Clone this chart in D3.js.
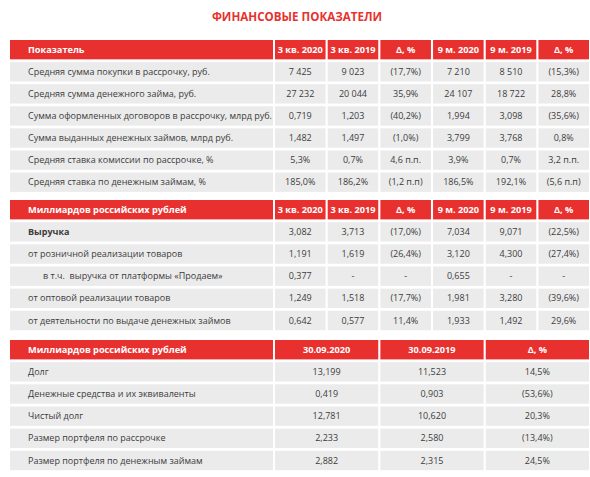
<!DOCTYPE html>
<html><head><meta charset="utf-8">
<script src="https://cdn.jsdelivr.net/npm/d3@7"></script>
<style>body{margin:0;background:#fff}svg{display:block;font-family:"Open Sans",sans-serif}</style>
</head><body>
<script>
const title = "ФИНАНСОВЫЕ ПОКАЗАТЕЛИ";
const periodHeaders = ["3 кв. 2020","3 кв. 2019","Δ, %","9 м. 2020","9 м. 2019","Δ, %"];

// Table 1: operating indicators
const t1Header = "Показатель";
const t1Labels = ["Средняя сумма покупки в рассрочку, руб.","Средняя сумма денежного займа, руб.","Сумма оформленных договоров в рассрочку, млрд руб.","Сумма выданных денежных займов, млрд руб.","Средняя ставка комиссии по рассрочке, %","Средняя ставка по денежным займам, %"];
const t1Q3_2020 = ["7 425","27 232","0,719","1,482","5,3%","185,0%"];
const t1Q3_2019 = ["9 023","20 044","1,203","1,497","0,7%","186,2%"];
const t1QDelta  = ["(17,7%)","35,9%","(40,2%)","(1,0%)","4,6 п.п.","(1,2 п.п)"];
const t1M9_2020 = ["7 210","24 107","1,994","3,799","3,9%","186,5%"];
const t1M9_2019 = ["8 510","18 722","3,098","3,768","0,7%","192,1%"];
const t1MDelta  = ["(15,3%)","28,8%","(35,6%)","0,8%","3,2 п.п.","(5,6 п.п)"];

// Table 2: revenue
const t2Header = "Миллиардов российских рублей";
const t2Labels = ["Выручка","от розничной реализации товаров","в т.ч.  выручка от платформы «Продаем»","от оптовой реализации товаров","от деятельности по выдаче денежных займов"];
const t2Bold = [true,false,false,false,false];
const t2Indent = [false,false,true,false,false];
const t2Q3_2020 = ["3,082","1,191","0,377","1,249","0,642"];
const t2Q3_2019 = ["3,713","1,619","-","1,518","0,577"];
const t2QDelta  = ["(17,0%)","(26,4%)","-","(17,7%)","11,4%"];
const t2M9_2020 = ["7,034","3,120","0,655","1,981","1,933"];
const t2M9_2019 = ["9,071","4,300","-","3,280","1,492"];
const t2MDelta  = ["(22,5%)","(27,4%)","-","(39,6%)","29,6%"];

// Table 3: debt
const t3Header = "Миллиардов российских рублей";
const t3Cols = ["30.09.2020","30.09.2019","Δ, %"];
const t3Labels = ["Долг","Денежные средства и их эквиваленты","Чистый долг","Размер портфеля по рассрочке","Размер портфеля по денежным займам"];
const t3D2020 = ["13,199","0,419","12,781","2,233","2,882"];
const t3D2019 = ["11,523","0,903","10,620","2,580","2,315"];
const t3Delta = ["14,5%","(53,6%)","20,3%","(13,4%)","24,5%"];

const W = 590, H = 477;
const RED = "#e8312f", GRAY = "#ebebeb", TXT = "#3c3c3c";
const FS = 9, FSH = 9.2;
const svg = d3.select("body").append("svg").attr("width", W).attr("height", H);

svg.append("text").attr("x", 297).attr("y", 17).attr("dy", "0.35em")
  .attr("text-anchor", "middle").attr("font-size", 11.6).attr("font-weight", 700)
  .attr("fill", RED).text(title);

const left = 10, labelW = 263, colStart = 275, right = 589;
const xSix = d3.scaleBand().domain(d3.range(6)).range([colStart, right]).paddingInner(0.04).paddingOuter(0);
const xThree = d3.scaleBand().domain(d3.range(3)).range([colStart, right]).paddingInner(0.02).paddingOuter(0);
const STEP = 21.7, BH = 19;

function drawTable(top, headerLabel, colHeaders, xs, labels, cols, opts) {
  const n = labels.length + 1;
  const y = d3.scaleBand().domain(d3.range(n)).range([top, top + n * STEP]).paddingInner(1 - BH / STEP).paddingOuter(0);
  const g = svg.append("g");
  g.append("rect").attr("x", left).attr("y", y(0)).attr("width", labelW).attr("height", y.bandwidth()).attr("fill", RED);
  g.append("text").attr("x", 28).attr("y", y(0) + y.bandwidth() / 2).attr("dy", "0.35em")
    .attr("font-size", FSH).attr("font-weight", 700).attr("fill", "#fff").text(headerLabel);
  colHeaders.forEach((h, j) => {
    g.append("rect").attr("x", xs(j)).attr("y", y(0)).attr("width", xs.bandwidth()).attr("height", y.bandwidth()).attr("fill", RED);
    g.append("text").attr("x", xs(j) + xs.bandwidth() / 2).attr("y", y(0) + y.bandwidth() / 2).attr("dy", "0.35em")
      .attr("text-anchor", "middle").attr("font-size", FSH).attr("font-weight", 700).attr("fill", "#fff").text(h);
  });
  labels.forEach((lab, i) => {
    const yy = y(i + 1);
    g.append("rect").attr("x", left).attr("y", yy).attr("width", labelW).attr("height", y.bandwidth()).attr("fill", GRAY);
    g.append("text").attr("x", opts.indent && opts.indent[i] ? 43 : 28).attr("y", yy + y.bandwidth() / 2).attr("dy", "0.35em")
      .attr("font-size", FS).attr("font-weight", opts.bold && opts.bold[i] ? 700 : 400).attr("fill", TXT)
      .style("white-space", "pre").text(lab);
    cols.forEach((c, j) => {
      g.append("rect").attr("x", xs(j)).attr("y", yy).attr("width", xs.bandwidth()).attr("height", y.bandwidth()).attr("fill", GRAY);
      g.append("text").attr("x", xs(j) + xs.bandwidth() / 2).attr("y", yy + y.bandwidth() / 2).attr("dy", "0.35em")
        .attr("text-anchor", "middle").attr("font-size", FS).attr("fill", TXT).text(c[i]);
    });
  });
}

drawTable(40, t1Header, periodHeaders, xSix, t1Labels,
  [t1Q3_2020, t1Q3_2019, t1QDelta, t1M9_2020, t1M9_2019, t1MDelta], {});
drawTable(200, t2Header, periodHeaders, xSix, t2Labels,
  [t2Q3_2020, t2Q3_2019, t2QDelta, t2M9_2020, t2M9_2019, t2MDelta], {bold: t2Bold, indent: t2Indent});
drawTable(340, t3Header, t3Cols, xThree, t3Labels,
  [t3D2020, t3D2019, t3Delta], {});
</script>
</body></html>
